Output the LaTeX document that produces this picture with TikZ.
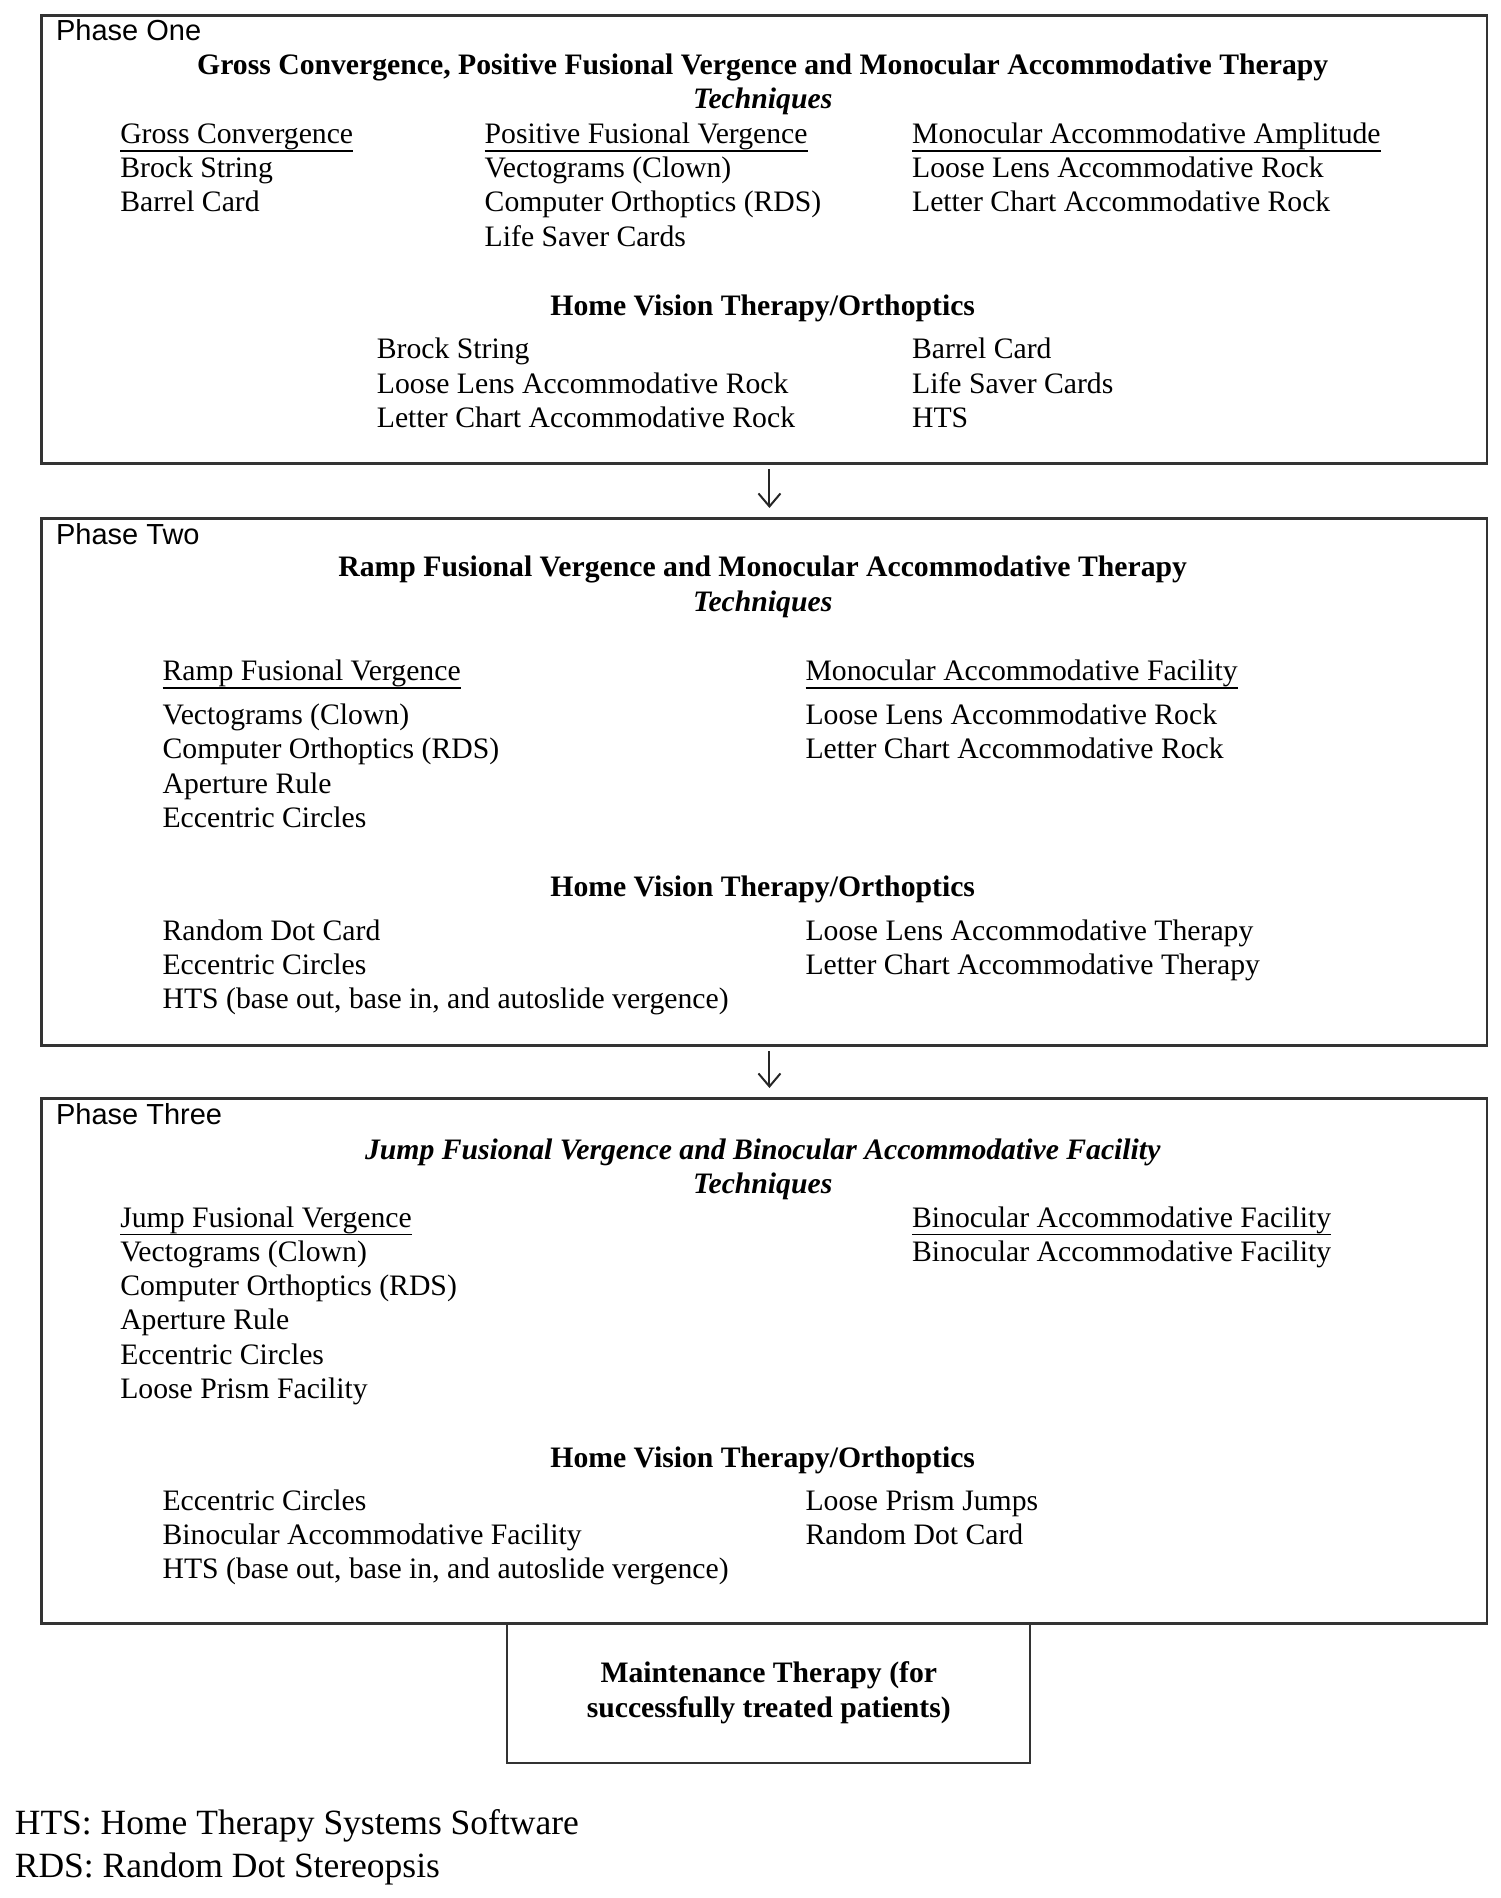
\documentclass[tikz,border=0pt]{standalone}
\usepackage{fontspec}
\setmainfont{Liberation Serif}
\setsansfont{Liberation Sans}
\usetikzlibrary{arrows.meta}
\newcommand\bodysize{\fontsize{14.85pt}{17.15pt}\selectfont}
\newcommand\notesize{\fontsize{17.75pt}{21.5pt}\selectfont}
% underlined column header, rule just under the descenders
\newcommand\colhead[1]{\setbox0\hbox{#1}\rlap{\rule[-4.2pt]{\wd0}{0.95pt}}\box0}
\begin{document}
\begin{tikzpicture}[x=0.5pt,y=-0.5pt,
  phasebox/.style={draw=black!80,line width=1.3pt,anchor=north west,inner sep=0pt,minimum width=722.75pt},
  phaselabel/.style={anchor=base west,inner sep=0pt,font=\sffamily\fontsize{14.5pt}{17pt}\selectfont},
  heading/.style={anchor=base,inner sep=0pt,align=center,font=\bodysize\bfseries},
  column/.style={anchor=base west,inner sep=0pt,align=left,font=\bodysize},
  flowarrow/.style={-{Straight Barb[length=6.5pt,width=11pt]},line width=1pt,draw=black!85}]
\useasboundingbox (0,0) rectangle (1500,1898);
% phase boxes
\node[phasebox,minimum height=224pt] (one) at (40,14.5) {};
\node[phasebox,minimum height=263.5pt] (two) at (40,517) {};
\node[phasebox,minimum height=262.5pt] (three) at (40,1097) {};
\node[draw=black!80,line width=1pt,anchor=north,minimum width=261.5pt,minimum height=69.75pt,
  align=center,font=\bodysize\bfseries] (maint) at (768.8,1622)
  {Maintenance Therapy (for\\successfully treated patients)};
\draw[flowarrow] ([xshift=2.7pt,yshift=-2.2pt]one.south) -- ([xshift=2.7pt,yshift=4.5pt]two.north);
\draw[flowarrow] ([xshift=2.7pt,yshift=-2.2pt]two.south) -- ([xshift=2.7pt,yshift=4.5pt]three.north);
% phase one (multi-line nodes sit on their last baseline)
\node[phaselabel] (oneLbl) at (55.7,40.7) {Phase One};
\node[heading] (oneHead) at (762.7,108.8)
  {Gross Convergence, Positive Fusional Vergence and Monocular Accommodative Therapy\\\textit{Techniques}};
\node[column] (oneGC) at (119.9,212.0) {\colhead{Gross Convergence}\\Brock String\\Barrel Card};
\node[column] (onePFV) at (484.3,246.3) {\colhead{Positive Fusional Vergence}\\Vectograms (Clown)\\Computer Orthoptics (RDS)\\Life Saver Cards};
\node[column] (oneMAA) at (911.7,212.0) {\colhead{Monocular Accommodative Amplitude}\\Loose Lens Accommodative Rock\\Letter Chart Accommodative Rock};
\node[heading] (oneHome) at (762.7,315.3) {Home Vision Therapy/Orthoptics};
\node[column] (oneHomeL) at (376.5,427.5) {Brock String\\Loose Lens Accommodative Rock\\Letter Chart Accommodative Rock};
\node[column] (oneHomeR) at (911.7,427.5) {Barrel Card\\Life Saver Cards\\HTS};
% phase two
\node[phaselabel] (twoLbl) at (55.7,544.4) {Phase Two};
\node[heading] (twoHead) at (762.7,611.1)
  {Ramp Fusional Vergence and Monocular Accommodative Therapy\\\textit{Techniques}};
\node[column] (twoRFV) at (162.2,827.3) {\colhead{Ramp Fusional Vergence}\\[4.6pt]Vectograms (Clown)\\Computer Orthoptics (RDS)\\Aperture Rule\\Eccentric Circles};
\node[column] (twoMAF) at (805.1,758.7) {\colhead{Monocular Accommodative Facility}\\[4.6pt]Loose Lens Accommodative Rock\\Letter Chart Accommodative Rock};
\node[heading] (twoHome) at (762.7,896.4) {Home Vision Therapy/Orthoptics};
\node[column] (twoHomeL) at (162.2,1008.6) {Random Dot Card\\Eccentric Circles\\HTS (base out, base in, and autoslide vergence)};
\node[column] (twoHomeR) at (805.1,974.3) {Loose Lens Accommodative Therapy\\Letter Chart Accommodative Therapy};
% phase three
\node[phaselabel] (threeLbl) at (55.7,1124.2) {Phase Three};
\node[heading,font=\bodysize\bfseries\itshape] (threeHead) at (762.7,1193.5)
  {Jump Fusional Vergence and Binocular Accommodative Facility\\Techniques};
\node[column] (threeJFV) at (119.9,1398.5) {\colhead{Jump Fusional Vergence}\\Vectograms (Clown)\\Computer Orthoptics (RDS)\\Aperture Rule\\Eccentric Circles\\Loose Prism Facility};
\node[column] (threeBAF) at (911.7,1261.3) {\colhead{Binocular Accommodative Facility}\\Binocular Accommodative Facility};
\node[heading] (threeHome) at (762.7,1467.9) {Home Vision Therapy/Orthoptics};
\node[column] (threeHomeL) at (162.2,1578.9) {Eccentric Circles\\Binocular Accommodative Facility\\HTS (base out, base in, and autoslide vergence)};
\node[column] (threeHomeR) at (805.1,1544.6) {Loose Prism Jumps\\Random Dot Card};
% abbreviations
\node[column,font=\notesize] (notes) at (14.5,1877.5) {HTS: Home Therapy Systems Software\\RDS: Random Dot Stereopsis};
\end{tikzpicture}
\end{document}
